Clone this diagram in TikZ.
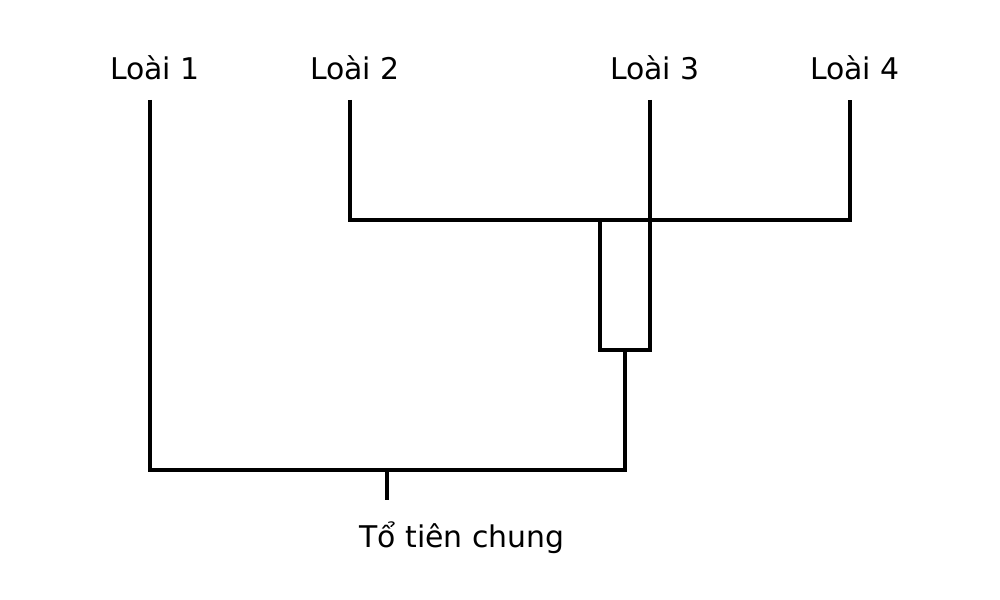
\documentclass[tikz,border=0pt]{standalone}
\usepackage{fontspec}
\setmainfont{DejaVu Sans}
\begin{document}
\begin{tikzpicture}[x=0.03cm,y=-0.03cm,
  lbl/.style={font=\fontsize{25.5pt}{28pt}\selectfont, inner sep=0pt},
  br/.style={line width=3.4pt}]
\useasboundingbox (0,0) rectangle (1000,600);
\node[lbl] (l1) at (155,68) {Loài 1};
\node[lbl] (l2) at (355,68) {Loài 2};
\node[lbl] (l3) at (655,68) {Loài 3};
\node[lbl] (l4) at (855,68) {Loài 4};
\node[lbl] (anc) at (462,538) {Tổ tiên chung};
\coordinate (a1) at (150,100); \coordinate (a2) at (350,100);
\coordinate (a3) at (650,100); \coordinate (a4) at (850,100);
\coordinate (b1) at (150,470); \coordinate (b2) at (350,220);
\coordinate (b3) at (650,350); \coordinate (b4) at (850,220);
\coordinate (c1) at (600,220); \coordinate (c2) at (600,350);
\coordinate (d1) at (625,350); \coordinate (d2) at (625,470);
\coordinate (r1) at (387,470); \coordinate (r2) at (387,500);
\draw[br] (a1) -- (b1) -- (d2) -- (d1);
\draw[br] (a2) -- (b2) -- (b4) -- (a4);
\draw[br] (a3) -- (b3) -- (c2) -- (c1);
\draw[br] (r1) -- (r2);
\end{tikzpicture}
\end{document}
